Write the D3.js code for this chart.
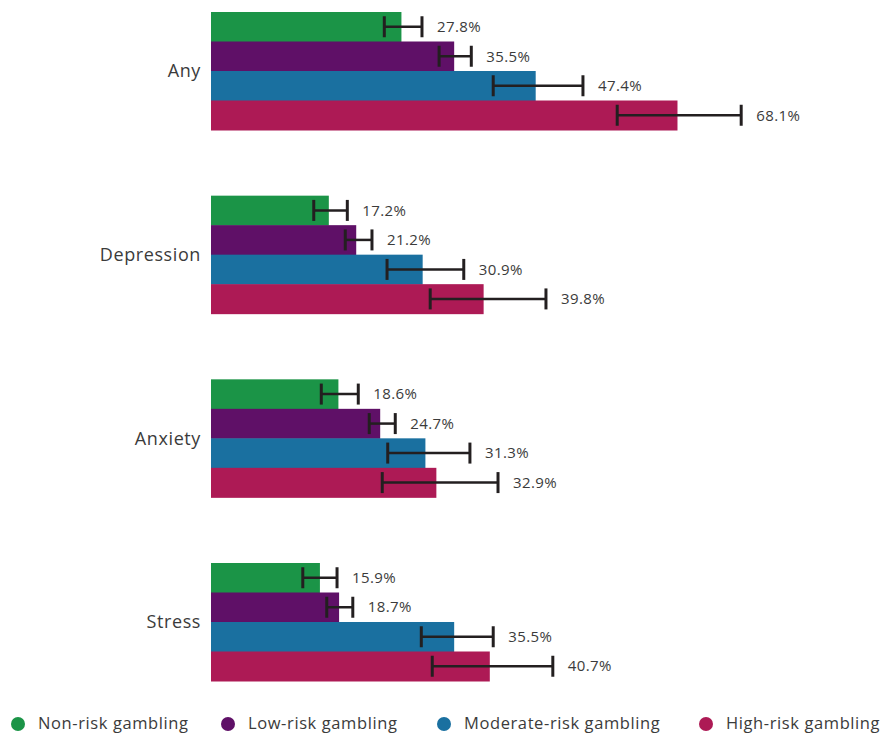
<!DOCTYPE html>
<html>
<head>
<meta charset="utf-8">
<title>Gambling risk and mental health</title>
<script src="https://d3js.org/d3.v7.min.js"></script>
<style>
  body { margin: 0; background: #fff; }
  text { font-family: "Open Sans", sans-serif; fill: #3b3b3b; }
</style>
</head>
<body>
<div id="chart"></div>
<script>
// categories and series
let categories = ["Any", "Depression", "Anxiety", "Stress"];
let series = ["Non-risk gambling", "Low-risk gambling", "Moderate-risk gambling", "High-risk gambling"];
let colors = ["#1b9447", "#5f1067", "#1a70a0", "#ad1a55"];

// values per category, one per series (percent)
let anyVals        = [27.8, 35.5, 47.4, 68.1];
let depressionVals = [17.2, 21.2, 30.9, 39.8];
let anxietyVals    = [18.6, 24.7, 31.3, 32.9];
let stressVals     = [15.9, 18.7, 35.5, 40.7];

// confidence intervals (low, high)
let anyCI        = [[25.3, 30.8], [33.3, 38.0], [41.2, 54.3], [59.3, 77.4]];
let depressionCI = [[15.0, 19.9], [19.6, 23.5], [25.7, 36.9], [32.0, 48.9]];
let anxietyCI    = [[16.1, 21.5], [23.1, 26.9], [25.8, 37.8], [25.0, 41.9]];
let stressCI     = [[13.4, 18.4], [16.9, 20.7], [30.7, 41.2], [32.3, 49.9]];

let allVals = [anyVals, depressionVals, anxietyVals, stressVals];
let allCI = [anyCI, depressionCI, anxietyCI, stressCI];

let data = [];
categories.forEach(function(c, i) {
    series.forEach(function(s, j) {
        data.push({cat: c, series: s, idx: j, value: allVals[i][j], lo: allCI[i][j][0], hi: allCI[i][j][1]});
    });
});

let W = 887, H = 735;
let svg = d3.select("#chart").append("svg")
    .attr("width", W).attr("height", H);

let x = d3.scaleLinear().domain([0, 100]).range([211, 211 + 685]);

let y0 = d3.scaleBand().domain(categories).range([12, 681]).paddingInner(0.3575);
let y1 = d3.scaleBand().domain(series).range([0, y0.bandwidth()]);
let color = d3.scaleOrdinal().domain(series).range(colors);

// bars
svg.selectAll("rect.bar")
    .data(data)
    .enter().append("rect")
    .attr("class", "bar")
    .attr("x", x(0))
    .attr("y", d => y0(d.cat) + y1(d.series))
    .attr("width", d => x(d.value) - x(0))
    .attr("height", y1.bandwidth() + 0.5)
    .attr("fill", d => color(d.series));

// error bars
let eb = svg.selectAll("g.err")
    .data(data)
    .enter().append("g")
    .attr("class", "err")
    .attr("transform", d => "translate(0," + (y0(d.cat) + y1(d.series) + y1.bandwidth() / 2) + ")");

eb.append("line")
    .attr("x1", d => x(d.lo)).attr("x2", d => x(d.hi))
    .attr("stroke", "#231f20").attr("stroke-width", 2.5);
eb.append("line")
    .attr("x1", d => x(d.lo)).attr("x2", d => x(d.lo))
    .attr("y1", -10.5).attr("y2", 10.5)
    .attr("stroke", "#231f20").attr("stroke-width", 3);
eb.append("line")
    .attr("x1", d => x(d.hi)).attr("x2", d => x(d.hi))
    .attr("y1", -10.5).attr("y2", 10.5)
    .attr("stroke", "#231f20").attr("stroke-width", 3);

// value labels
eb.append("text")
    .attr("x", d => x(d.hi) + 15)
    .attr("dy", "0.35em")
    .attr("font-size", "15px")
    .attr("letter-spacing", "0.4px")
    .text(d => d.value.toFixed(1) + "%");

// category labels
svg.selectAll("text.cat")
    .data(categories)
    .enter().append("text")
    .attr("class", "cat")
    .attr("x", 201)
    .attr("y", d => y0(d) + y0.bandwidth() / 2)
    .attr("dy", "0.35em")
    .attr("text-anchor", "end")
    .attr("font-size", "18px")
    .attr("letter-spacing", "0.6px")
    .text(d => d);

// legend
let legendX = [18, 228, 444, 706];
let leg = svg.selectAll("g.leg")
    .data(series)
    .enter().append("g")
    .attr("class", "leg")
    .attr("transform", (d, i) => "translate(" + legendX[i] + ",724)");
leg.append("circle").attr("r", 7).attr("fill", d => color(d));
leg.append("text")
    .attr("x", 20)
    .attr("dy", "0.33em")
    .attr("font-size", "16.5px")
    .attr("letter-spacing", "0.6px")
    .text(d => d);
</script>
</body>
</html>
